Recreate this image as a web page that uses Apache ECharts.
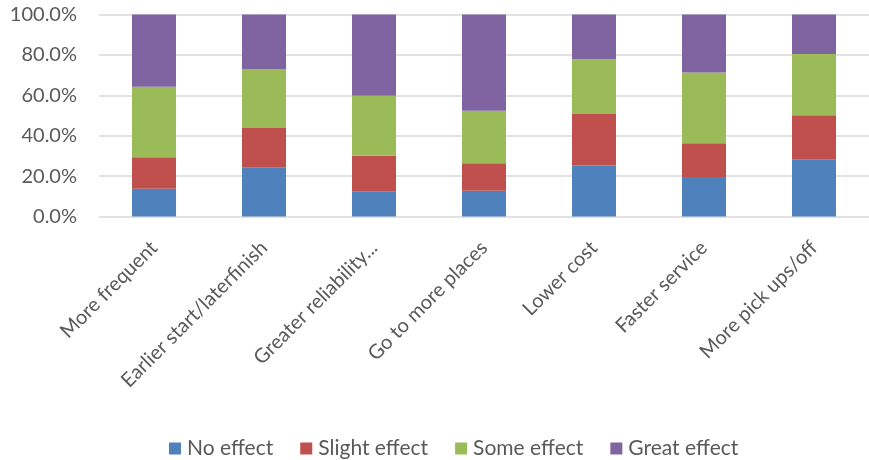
<!DOCTYPE html>
<html><head><meta charset="utf-8">
<script src="https://cdn.jsdelivr.net/npm/echarts@6/dist/echarts.min.js"></script>
<style>html,body{margin:0;padding:0;background:#fff;}#c{width:869px;height:460px;}</style>
</head><body><div id="c"></div>
<script>
var categories = ["More frequent","Earlier start/laterfinish","Greater reliability...","Go to more places","Lower cost","Faster service","More pick ups/off"];
var noEffect     = [13.7, 24.4, 12.5, 12.8, 25.2, 19.6, 28.4];
var slightEffect = [15.6, 19.4, 17.6, 13.6, 25.5, 16.7, 21.7];
var someEffect   = [34.9, 29.2, 29.7, 26.0, 27.2, 35.0, 30.4];
var greatEffect  = [35.8, 27.0, 40.2, 47.6, 22.1, 28.7, 19.5];
var seriesNames = ["No effect","Slight effect","Some effect","Great effect"];
var colors = ["#4F81BD","#C0504D","#9BBB59","#8064A2"];
var FONT = "Lato, 'Open Sans', sans-serif";
var chart = echarts.init(document.getElementById('c'));
var data = [noEffect, slightEffect, someEffect, greatEffect];
chart.setOption({
  animation:false,
  grid:{left:99, top:14.5, width:777, height:202},
  legend:{left:164, top:433, itemWidth:12, itemHeight:12, itemGap:27,
    textStyle:{fontFamily:FONT, fontSize:21, color:'#595959', padding:[0,0,0,1]},
    icon:'rect', data:seriesNames},
  xAxis:{type:'category', data:categories,
    axisLine:{show:false}, axisTick:{show:false},
    axisLabel:{rotate:45, interval:0, margin:28, fontFamily:FONT, fontSize:20, color:'#595959'}},
  yAxis:{type:'value', min:0, max:100, interval:20,
    axisLabel:{formatter:function(v){return v.toFixed(1)+'%';}, margin:22, fontFamily:FONT, fontSize:20, color:'#595959'},
    splitLine:{lineStyle:{color:'#D9D9D9', width:1.5}},
    axisLine:{show:false}, axisTick:{show:false}},
  series: seriesNames.map(function(n,i){
    return {name:n, type:'bar', stack:'a', data:data[i], barWidth:44, itemStyle:{color:colors[i]}};
  })
});
</script></body></html>
